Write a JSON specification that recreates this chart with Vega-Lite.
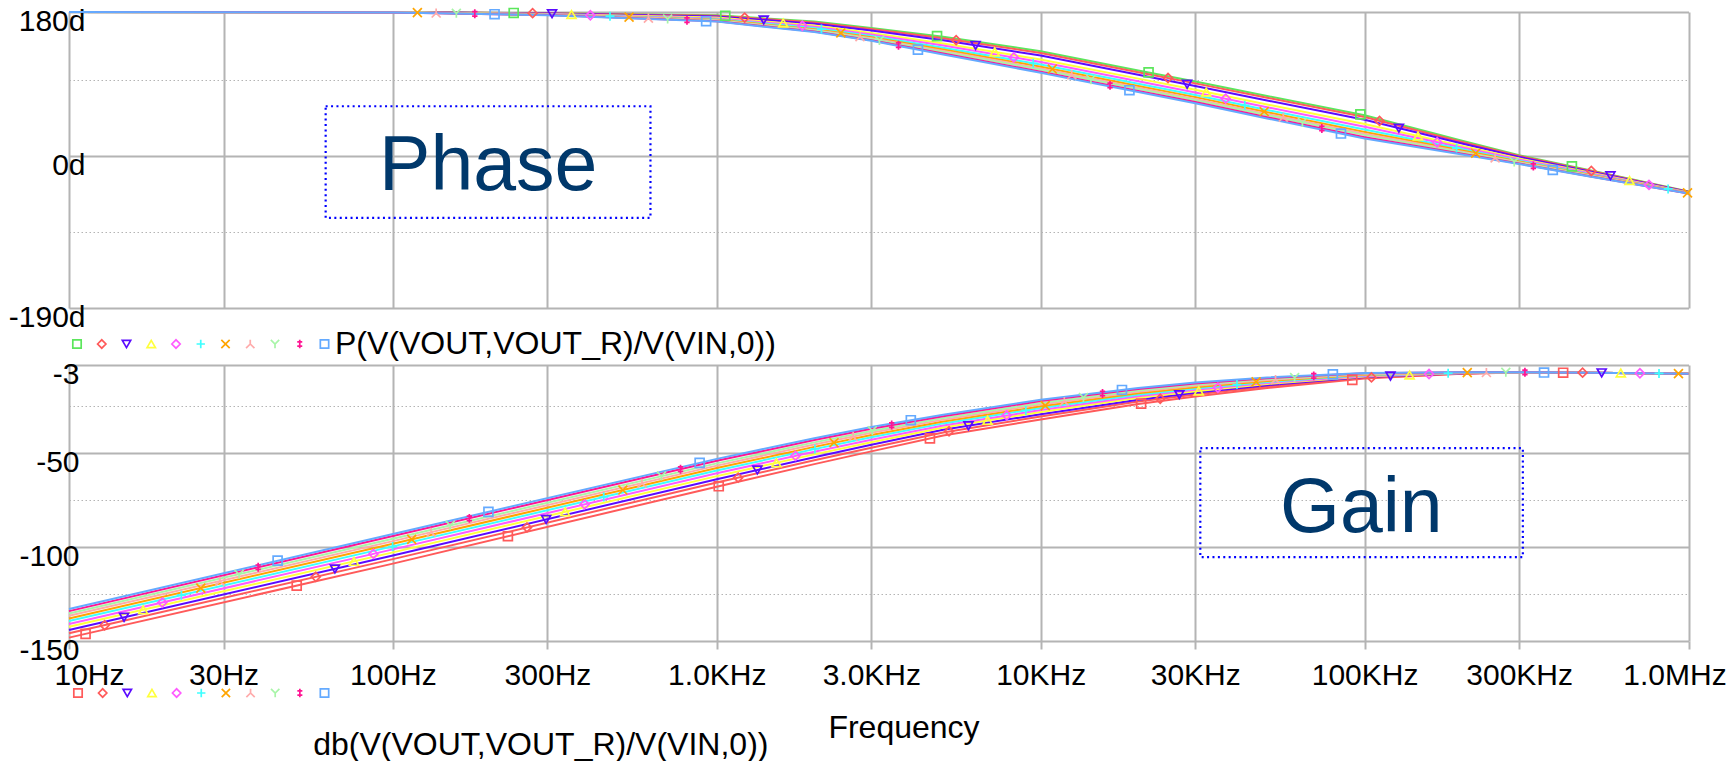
{
"$schema":"https://vega.github.io/schema/vega-lite/v6.json",
"background":"white",
"padding":{"left":8,"top":4,"right":0,"bottom":0},
"autosize":{"type":"pad"},
"title":{"text":"db(V(VOUT,VOUT_R)/V(VIN,0))","orient":"bottom","anchor":"start","fontSize":32,"fontWeight":"normal","font":"Liberation Sans","color":"#000000","dx":305,"offset":-13},
"datasets":{
"traces":[{"tr":"t1"},{"tr":"t2"},{"tr":"t3"},{"tr":"t4"},{"tr":"t5"},{"tr":"t6"},{"tr":"t7"},{"tr":"t8"},{"tr":"t9"},{"tr":"t10"},{"tr":"t11"}],
"phase":[
{"f":10,"t1":180,"t2":180,"t3":180,"t4":180,"t5":180,"t6":180,"t7":180,"t8":180,"t9":180,"t10":180,"t11":180},
{"f":100,"t1":180,"t2":180,"t3":179.9,"t4":179.8,"t5":179.8,"t6":179.7,"t7":179.6,"t8":179.6,"t9":179.6,"t10":179.5,"t11":179.5},
{"f":300,"t1":178.5,"t2":178.3,"t3":178.0,"t4":177.6,"t5":177.3,"t6":177.0,"t7":176.7,"t8":176.5,"t9":176.4,"t10":176.1,"t11":176.0},
{"f":1000,"t1":176,"t2":175.4,"t3":174.4,"t4":173.0,"t5":172.0,"t6":171.0,"t7":170.2,"t8":169.6,"t9":169.1,"t10":168.4,"t11":168},
{"f":2000,"t1":168,"t2":167.0,"t3":165.4,"t4":163.1,"t5":161.5,"t6":159.9,"t7":158.6,"t8":157.6,"t9":156.8,"t10":155.7,"t11":155},
{"f":3000,"t1":160,"t2":158.7,"t3":156.8,"t4":153.9,"t5":152,"t6":150.1,"t7":148.5,"t8":147.2,"t9":146.2,"t10":144.8,"t11":144},
{"f":5000,"t1":149,"t2":147.2,"t3":144.6,"t4":140.6,"t5":138,"t6":135.4,"t7":133.2,"t8":131.4,"t9":130.1,"t10":128.1,"t11":127},
{"f":10000,"t1":131,"t2":128.8,"t3":125.6,"t4":120.7,"t5":117.5,"t6":114.3,"t7":111.6,"t8":109.4,"t9":107.8,"t10":105.4,"t11":104},
{"f":20000,"t1":107,"t2":104.8,"t3":101.6,"t4":96.7,"t5":93.5,"t6":90.3,"t7":87.6,"t8":85.4,"t9":83.8,"t10":81.4,"t11":80},
{"f":30000,"t1":93,"t2":90.8,"t3":87.6,"t4":82.7,"t5":79.5,"t6":76.3,"t7":73.6,"t8":71.4,"t9":69.8,"t10":67.4,"t11":66},
{"f":50000,"t1":75,"t2":72.8,"t3":69.4,"t4":64.4,"t5":61,"t6":57.6,"t7":54.8,"t8":52.6,"t9":50.9,"t10":48.4,"t11":47},
{"f":100000,"t1":51,"t2":48.7,"t3":45.2,"t4":40,"t5":36.5,"t6":33,"t7":30.1,"t8":27.8,"t9":26.1,"t10":23.5,"t11":22},
{"f":200000,"t1":19,"t2":17.6,"t3":15.6,"t4":12.5,"t5":10.5,"t6":8.5,"t7":6.8,"t8":5.4,"t9":4.4,"t10":2.9,"t11":2},
{"f":300000,"t1":1,"t2":0.1,"t3":-1.2,"t4":-3.2,"t5":-4.5,"t6":-5.8,"t7":-6.9,"t8":-7.8,"t9":-8.5,"t10":-9.5,"t11":-10},
{"f":500000,"t1":-18,"t2":-18.6,"t3":-19.6,"t4":-21,"t5":-22,"t6":-23,"t7":-23.8,"t8":-24.4,"t9":-24.9,"t10":-25.6,"t11":-26},
{"f":1000000,"t1":-44.5,"t2":-44.7,"t3":-45,"t4":-45.5,"t5":-45.8,"t6":-46.1,"t7":-46.3,"t8":-46.5,"t9":-46.7,"t10":-46.9,"t11":-47}
],
"phaseMarks":[
{"f":119,"v":179.2,"tr":"t7"},{"f":136,"v":178.7,"tr":"t8"},{"f":157,"v":178.3,"tr":"t9"},{"f":179,"v":177.7,"tr":"t10"},{"f":206,"v":177.2,"tr":"t11"},
{"f":236,"v":178.8,"tr":"t1"},{"f":270,"v":178.5,"tr":"t2"},{"f":310,"v":177.9,"tr":"t3"},{"f":356,"v":176.9,"tr":"t4"},{"f":407,"v":175.9,"tr":"t5"},
{"f":468,"v":174.8,"tr":"t6"},{"f":536,"v":173.6,"tr":"t7"},{"f":615,"v":172.4,"tr":"t8"},{"f":705,"v":171.2,"tr":"t9"},{"f":809,"v":169.8,"tr":"t10"},
{"f":927,"v":168.5,"tr":"t11"},{"f":1062,"v":175.3,"tr":"t1"},{"f":1219,"v":173.0,"tr":"t2"},{"f":1396,"v":170.1,"tr":"t3"},{"f":1603,"v":166.2,"tr":"t4"},
{"f":1837,"v":162.8,"tr":"t5"},{"f":2104,"v":158.7,"tr":"t6"},{"f":2415,"v":153.9,"tr":"t7"},{"f":2767,"v":149.3,"tr":"t8"},{"f":3177,"v":144.4,"tr":"t9"},
{"f":3639,"v":138.5,"tr":"t10"},{"f":4178,"v":133.0,"tr":"t11"},{"f":4786,"v":149.9,"tr":"t1"},{"f":5483,"v":144.8,"tr":"t2"},{"f":6295,"v":138.3,"tr":"t3"},
{"f":7211,"v":130.1,"tr":"t4"},{"f":8260,"v":123.2,"tr":"t5"},{"f":9484,"v":115.9,"tr":"t6"},{"f":10860,"v":108.7,"tr":"t7"},{"f":12470,"v":101.8,"tr":"t8"},
{"f":14290,"v":95.4,"tr":"t9"},{"f":16370,"v":88.3,"tr":"t10"},{"f":18790,"v":82.2,"tr":"t11"},{"f":21530,"v":104.5,"tr":"t1"},{"f":24720,"v":97.5,"tr":"t2"},
{"f":28310,"v":89.6,"tr":"t3"},{"f":32430,"v":79.9,"tr":"t4"},{"f":37240,"v":71.7,"tr":"t5"},{"f":42660,"v":63.4,"tr":"t6"},{"f":48980,"v":55.6,"tr":"t7"},
{"f":56100,"v":48.5,"tr":"t8"},{"f":64270,"v":41.9,"tr":"t9"},{"f":73790,"v":34.4,"tr":"t10"},{"f":84530,"v":28.1,"tr":"t11"},{"f":97050,"v":52.0,"tr":"t1"},
{"f":111200,"v":43.9,"tr":"t2"},{"f":127600,"v":34.8,"tr":"t3"},{"f":146200,"v":24.9,"tr":"t4"},{"f":167500,"v":17.2,"tr":"t5"},{"f":192300,"v":9.9,"tr":"t6"},
{"f":220300,"v":3.5,"tr":"t7"},{"f":252900,"v":-2.3,"tr":"t8"},{"f":289700,"v":-7.4,"tr":"t9"},{"f":331900,"v":-12.6,"tr":"t10"},{"f":381100,"v":-17.5,"tr":"t11"},
{"f":436500,"v":-13.0,"tr":"t1"},{"f":501200,"v":-18.7,"tr":"t2"},{"f":574100,"v":-24.7,"tr":"t3"},{"f":657700,"v":-30.7,"tr":"t4"},{"f":755100,"v":-36.1,"tr":"t5"},
{"f":865000,"v":-41.2,"tr":"t6"},{"f":993000,"v":-46.1,"tr":"t7"}
],
"gain":[
{"f":10,"t1":-148.2,"t2":-145.9,"t3":-144.1,"t4":-142.4,"t5":-140.9,"t6":-139.4,"t7":-138.0,"t8":-136.6,"t9":-135.4,"t10":-134.1,"t11":-133},
{"f":100,"t1":-108.8,"t2":-106.4,"t3":-104.5,"t4":-102.8,"t5":-101.2,"t6":-99.6,"t7":-98.2,"t8":-96.8,"t9":-95.5,"t10":-94.1,"t11":-93},
{"f":1000,"t1":-67.8,"t2":-65.6,"t3":-63.8,"t4":-62.2,"t5":-60.7,"t6":-59.2,"t7":-57.9,"t8":-56.6,"t9":-55.4,"t10":-54.0,"t11":-53},
{"f":2000,"t1":-55.8,"t2":-53.7,"t3":-52.1,"t4":-50.6,"t5":-49.2,"t6":-47.8,"t7":-46.6,"t8":-45.3,"t9":-44.2,"t10":-43.0,"t11":-42},
{"f":3000,"t1":-49,"t2":-47.1,"t3":-45.5,"t4":-44.1,"t5":-42.8,"t6":-41.5,"t7":-40.3,"t8":-39.1,"t9":-38.1,"t10":-36.9,"t11":-36},
{"f":5000,"t1":-40.5,"t2":-38.9,"t3":-37.5,"t4":-36.3,"t5":-35.2,"t6":-34.1,"t7":-33.1,"t8":-32.1,"t9":-31.3,"t10":-30.3,"t11":-29.5},
{"f":10000,"t1":-32,"t2":-30.4,"t3":-29.2,"t4":-28.0,"t5":-27.0,"t6":-25.9,"t7":-25.0,"t8":-24.0,"t9":-23.2,"t10":-22.2,"t11":-21.5},
{"f":20000,"t1":-23.8,"t2":-22.5,"t3":-21.5,"t4":-20.5,"t5":-19.7,"t6":-18.8,"t7":-18.0,"t8":-17.3,"t9":-16.6,"t10":-15.8,"t11":-15.2},
{"f":30000,"t1":-19.8,"t2":-18.7,"t3":-17.8,"t4":-17.0,"t5":-16.2,"t6":-15.5,"t7":-14.8,"t8":-14.1,"t9":-13.5,"t10":-12.8,"t11":-12.3},
{"f":50000,"t1":-15.3,"t2":-14.5,"t3":-13.8,"t4":-13.1,"t5":-12.6,"t6":-12.0,"t7":-11.5,"t8":-11.0,"t9":-10.5,"t10":-10.0,"t11":-9.6},
{"f":100000,"t1":-10.2,"t2":-9.8,"t3":-9.4,"t4":-9.1,"t5":-8.8,"t6":-8.5,"t7":-8.2,"t8":-7.9,"t9":-7.7,"t10":-7.4,"t11":-7.2},
{"f":200000,"t1":-7.6,"t2":-7.5,"t3":-7.4,"t4":-7.3,"t5":-7.3,"t6":-7.2,"t7":-7.1,"t8":-7.1,"t9":-7.0,"t10":-6.9,"t11":-6.9},
{"f":300000,"t1":-7.0,"t2":-7.0,"t3":-7.0,"t4":-7.0,"t5":-7.0,"t6":-7.0,"t7":-6.9,"t8":-6.9,"t9":-6.9,"t10":-6.9,"t11":-6.9},
{"f":500000,"t1":-7.1,"t2":-7.1,"t3":-7.1,"t4":-7.1,"t5":-7.1,"t6":-7.1,"t7":-7.1,"t8":-7.1,"t9":-7.1,"t10":-7.1,"t11":-7.1},
{"f":1000000,"t1":-7.7,"t2":-7.7,"t3":-7.7,"t4":-7.7,"t5":-7.7,"t6":-7.7,"t7":-7.7,"t8":-7.7,"t9":-7.7,"t10":-7.7,"t11":-7.7}
],
"gainMarks":[
{"f":11.25,"v":-146.2,"tr":"t1"},{"f":12.88,"v":-141.6,"tr":"t2"},{"f":14.79,"v":-137.4,"tr":"t3"},{"f":16.94,"v":-133.4,"tr":"t4"},{"f":19.41,"v":-129.5,"tr":"t5"},
{"f":22.23,"v":-125.6,"tr":"t6"},{"f":25.53,"v":-121.8,"tr":"t7"},{"f":29.24,"v":-118.1,"tr":"t8"},{"f":33.5,"v":-114.5,"tr":"t9"},{"f":38.37,"v":-110.7,"tr":"t10"},
{"f":44.06,"v":-107.2,"tr":"t11"},{"f":50.47,"v":-120.5,"tr":"t1"},{"f":57.81,"v":-115.8,"tr":"t2"},{"f":66.22,"v":-111.6,"tr":"t3"},{"f":75.86,"v":-107.6,"tr":"t4"},
{"f":87.1,"v":-103.6,"tr":"t5"},{"f":99.77,"v":-99.7,"tr":"t6"},{"f":114.3,"v":-95.9,"tr":"t7"},{"f":131.2,"v":-92.0,"tr":"t8"},{"f":150.3,"v":-88.4,"tr":"t9"},
{"f":172.2,"v":-84.7,"tr":"t10"},{"f":197.2,"v":-81.2,"tr":"t11"},{"f":226.5,"v":-94.2,"tr":"t1"},{"f":259.4,"v":-89.5,"tr":"t2"},{"f":297.2,"v":-85.3,"tr":"t3"},
{"f":340.4,"v":-81.2,"tr":"t4"},{"f":390.8,"v":-77.2,"tr":"t5"},{"f":447.7,"v":-73.3,"tr":"t6"},{"f":512.9,"v":-69.6,"tr":"t7"},{"f":587.5,"v":-65.9,"tr":"t8"},
{"f":674.5,"v":-62.2,"tr":"t9"},{"f":772.7,"v":-58.5,"tr":"t10"},{"f":885.1,"v":-55.1,"tr":"t11"},{"f":1014,"v":-67.6,"tr":"t1"},{"f":1164,"v":-63.0,"tr":"t2"},
{"f":1334,"v":-58.9,"tr":"t3"},{"f":1528,"v":-55.1,"tr":"t4"},{"f":1750,"v":-51.4,"tr":"t5"},{"f":2009,"v":-47.7,"tr":"t6"},{"f":2301,"v":-44.4,"tr":"t7"},
{"f":2636,"v":-41.1,"tr":"t8"},{"f":3020,"v":-38.0,"tr":"t9"},{"f":3467,"v":-35.0,"tr":"t10"},{"f":3972,"v":-32.4,"tr":"t11"},{"f":4550,"v":-42.1,"tr":"t1"},
{"f":5212,"v":-38.3,"tr":"t2"},{"f":5984,"v":-35.4,"tr":"t3"},{"f":6855,"v":-32.5,"tr":"t4"},{"f":7852,"v":-29.8,"tr":"t5"},{"f":8995,"v":-27.2,"tr":"t6"},
{"f":10330,"v":-24.6,"tr":"t7"},{"f":11830,"v":-22.4,"tr":"t8"},{"f":13550,"v":-20.3,"tr":"t9"},{"f":15520,"v":-18.2,"tr":"t10"},{"f":17820,"v":-16.3,"tr":"t11"},
{"f":20420,"v":-23.6,"tr":"t1"},{"f":23390,"v":-21.0,"tr":"t2"},{"f":26790,"v":-18.8,"tr":"t3"},{"f":30760,"v":-16.8,"tr":"t4"},{"f":35240,"v":-15.1,"tr":"t5"},
{"f":40360,"v":-13.4,"tr":"t6"},{"f":46240,"v":-12.0,"tr":"t7"},{"f":53090,"v":-10.7,"tr":"t8"},{"f":60810,"v":-9.7,"tr":"t9"},{"f":69660,"v":-8.8,"tr":"t10"},
{"f":79800,"v":-8.0,"tr":"t11"},{"f":91620,"v":-10.9,"tr":"t1"},{"f":105000,"v":-9.6,"tr":"t2"},{"f":120200,"v":-8.9,"tr":"t3"},{"f":137700,"v":-8.3,"tr":"t4"},
{"f":158100,"v":-7.8,"tr":"t5"},{"f":181100,"v":-7.4,"tr":"t6"},{"f":207500,"v":-7.1,"tr":"t7"},{"f":237700,"v":-7.0,"tr":"t8"},{"f":272900,"v":-6.9,"tr":"t9"},
{"f":312600,"v":-6.9,"tr":"t10"},{"f":358100,"v":-7.0,"tr":"t11"},{"f":410200,"v":-7.1,"tr":"t1"},{"f":471000,"v":-7.1,"tr":"t2"},{"f":539500,"v":-7.2,"tr":"t3"},
{"f":618000,"v":-7.3,"tr":"t4"},{"f":707900,"v":-7.4,"tr":"t5"},{"f":810900,"v":-7.5,"tr":"t6"},{"f":931100,"v":-7.6,"tr":"t7"}
],
"phaseNote":[{"label":"Phase","f_lo":62,"f_hi":624,"v_hi":62.2,"v_lo":-77.4,"f_text":197,"v_text":-42.7}],
"gainNote":[{"label":"Gain","f_lo":31100,"f_hi":308000,"v_hi":-47.3,"v_lo":-105.3,"f_text":97700,"v_text":-91.8}]
},
"vconcat":[
{
"vconcat":[
{
"width":1619.5,"height":296,
"layer":[
{"data":{"name":"phase"},
"transform":[{"fold":["t1","t2","t3","t4","t5","t6","t7","t8","t9","t10","t11"],"as":["tr","v"]}],
"mark":{"type":"line","strokeWidth":2},
"encoding":{
"x":{"field":"f","type":"quantitative","title":"P(V(VOUT,VOUT_R)/V(VIN,0))","scale":{"type":"log","domain":[10,1000000],"nice":false},
"axis":{"values":[10,30,100,300,1000,3000,10000,30000,100000,300000,1000000],"labels":false,"ticks":false,"domain":false,"grid":true,"gridColor":"#b4b4b4","gridWidth":2,
"titleX":265.5,"titleY":35.7,"titleAlign":"left","titleAnchor":"start","titleBaseline":"middle","titleFontSize":32,"titleFontWeight":"normal","titleColor":"#000000"}},
"y":{"field":"v","type":"quantitative","title":null,"scale":{"domain":[-190,180],"nice":false,"zero":false},
"axis":{"values":[-190,-142.5,-95,-47.5,0,47.5,95,142.5,180],
"labelExpr":"datum.value==180?'180d':datum.value==0?'0d':datum.value==-190?'-190d':''",
"grid":true,"gridColor":"#b4b4b4",
"gridWidth":{"condition":{"test":"datum.value==0||datum.value==180||datum.value==-190","value":2},"value":1},
"gridDash":{"condition":{"test":"datum.value==0||datum.value==180||datum.value==-190","value":[]},"value":[1.5,2.5]},
"domain":false,"ticks":false,"labelPadding":-16,"labelOffset":9.5,"labelBaseline":"middle","labelFontSize":30,"labelColor":"#000000","labelOverlap":false,"labelBound":false}},
"stroke":{"field":"tr","type":"nominal","scale":{"domain":["t1","t2","t3","t4","t5","t6","t7","t8","t9","t10","t11"],"range":["#5ce65c","#ff5a5a","#5a0aff","#ffff3c","#ff5aff","#3cffff","#ffa500","#ffaaaa","#a8f5a8","#ff1493","#64aaff"]},"legend":null}
}},
{"data":{"name":"phaseMarks"},
"mark":{"type":"point","filled":false,"strokeWidth":1.7,"size":80,"opacity":1},
"encoding":{
"x":{"field":"f","type":"quantitative","title":"P(V(VOUT,VOUT_R)/V(VIN,0))"},
"y":{"field":"v","type":"quantitative","title":null},
"color":{"field":"tr","type":"nominal","scale":{"domain":["t1","t2","t3","t4","t5","t6","t7","t8","t9","t10","t11"],"range":["#5ce65c","#ff5a5a","#5a0aff","#ffff3c","#ff5aff","#3cffff","#ffa500","#ffaaaa","#a8f5a8","#ff1493","#64aaff"]},"legend":null},
"shape":{"field":"tr","type":"nominal","scale":{"domain":["t1","t2","t3","t4","t5","t6","t7","t8","t9","t10","t11"],"range":["square","diamond","triangle-down","triangle-up","diamond","M-1,0L1,0M0,-1L0,1","M-1,-1L1,1M-1,1L1,-1","M0,-1L0,0L-1,1M0,0L1,1","M-1,-1L0,0L1,-1M0,0L0,1","M0,-1L0,1M-0.6,-0.5L0.6,-0.5M-0.6,0.5L0.6,0.5","square"]},"legend":null}
}},
{"data":{"name":"phaseNote"},
"mark":{"type":"rect","fill":"transparent","stroke":"#0000ff","strokeWidth":2.2,"strokeDash":[2,3.4]},
"encoding":{"x":{"field":"f_lo","type":"quantitative","title":"P(V(VOUT,VOUT_R)/V(VIN,0))"},"x2":{"field":"f_hi"},"y":{"field":"v_hi","type":"quantitative","title":null},"y2":{"field":"v_lo"}}},
{"data":{"name":"phaseNote"},
"mark":{"type":"text","fontSize":77,"color":"#00386b","baseline":"alphabetic","align":"center","font":"Liberation Sans"},
"encoding":{"x":{"field":"f_text","type":"quantitative","title":"P(V(VOUT,VOUT_R)/V(VIN,0))"},"y":{"field":"v_text","type":"quantitative","title":null},"text":{"field":"label"}}}
]
},
{
"width":263.5,"height":8,
"data":{"name":"traces"},
"mark":{"type":"point","filled":false,"strokeWidth":1.7,"size":70,"opacity":1},
"encoding":{
"x":{"field":"tr","type":"nominal","scale":{"type":"point","domain":["t1","t2","t3","t4","t5","t6","t7","t8","t9","t10","t11"],"padding":0.323},"axis":null},
"color":{"field":"tr","type":"nominal","scale":{"domain":["t1","t2","t3","t4","t5","t6","t7","t8","t9","t10","t11"],"range":["#5ce65c","#ff5a5a","#5a0aff","#ffff3c","#ff5aff","#3cffff","#ffa500","#ffaaaa","#a8f5a8","#ff1493","#64aaff"]},"legend":null},
"shape":{"field":"tr","type":"nominal","scale":{"domain":["t1","t2","t3","t4","t5","t6","t7","t8","t9","t10","t11"],"range":["square","diamond","triangle-down","triangle-up","diamond","M-1,0L1,0M0,-1L0,1","M-1,-1L1,1M-1,1L1,-1","M0,-1L0,0L-1,1M0,0L1,1","M-1,-1L0,0L1,-1M0,0L0,1","M0,-1L0,1M-0.6,-0.5L0.6,-0.5M-0.6,0.5L0.6,0.5","square"]},"legend":null}
}
}
],
"spacing":32,
"bounds":"flush",
"resolve":{"scale":{"color":"independent","shape":"independent","stroke":"independent","x":"independent","y":"independent"}}
},
{
"vconcat":[
{
"width":1619.5,"height":276,
"layer":[
{"data":{"name":"gain"},
"transform":[{"fold":["t1","t2","t3","t4","t5","t6","t7","t8","t9","t10","t11"],"as":["tr","v"]}],
"mark":{"type":"line","strokeWidth":2},
"encoding":{
"x":{"field":"f","type":"quantitative","title":"Frequency","scale":{"type":"log","domain":[10,1000000],"nice":false},
"axis":{"values":[10,30,100,300,1000,3000,10000,30000,100000,300000,1000000],
"labelExpr":"datum.value==10?'10Hz':datum.value==30?'30Hz':datum.value==100?'100Hz':datum.value==300?'300Hz':datum.value==1000?'1.0KHz':datum.value==3000?'3.0KHz':datum.value==10000?'10KHz':datum.value==30000?'30KHz':datum.value==100000?'100KHz':datum.value==300000?'300KHz':'1.0MHz'",
"grid":true,"gridColor":"#b4b4b4","gridWidth":2,"ticks":true,"tickColor":"#b4b4b4","tickWidth":2,"tickSize":8,"domain":false,
"labelFontSize":30,"labelColor":"#000000","labelPadding":11,"labelFlush":false,"labelOverlap":false,"labelBound":false,
"labelOffset":{"condition":[{"test":"datum.value==10","value":20},{"test":"datum.value==1000000","value":-14}],"value":0},
"titleX":834.5,"titleY":86,"titleAlign":"center","titleBaseline":"middle","titleFontSize":32,"titleFontWeight":"normal","titleColor":"#000000"}},
"y":{"field":"v","type":"quantitative","title":null,"scale":{"domain":[-150,-3],"nice":false,"zero":false},
"axis":{"values":[-150,-137.5,-125,-112.5,-100,-87.5,-75,-62.5,-50,-37.5,-25,-12.5,-3],
"labelExpr":"datum.value==-3?'-3':datum.value==-50?'-50':datum.value==-100?'-100':datum.value==-150?'-150':''",
"grid":true,"gridColor":"#b4b4b4",
"gridWidth":{"condition":{"test":"datum.value==-3||datum.value==-50||datum.value==-100||datum.value==-150","value":2},"value":1},
"gridDash":{"condition":{"test":"datum.value==-3||datum.value==-50||datum.value==-100||datum.value==-150","value":[]},"value":[1.5,2.5]},
"domain":false,"ticks":false,"labelPadding":-10,"labelOffset":9.5,"labelBaseline":"middle","labelFontSize":30,"labelColor":"#000000","labelOverlap":false,"labelBound":false}},
"stroke":{"field":"tr","type":"nominal","scale":{"domain":["t1","t2","t3","t4","t5","t6","t7","t8","t9","t10","t11"],"range":["#ff5a5a","#ff5a5a","#5a0aff","#ffff3c","#ff5aff","#3cffff","#ffa500","#ffaaaa","#a8f5a8","#ff1493","#64aaff"]},"legend":null}
}},
{"data":{"name":"gainMarks"},
"mark":{"type":"point","filled":false,"strokeWidth":1.7,"size":80,"opacity":1},
"encoding":{
"x":{"field":"f","type":"quantitative","title":"Frequency"},
"y":{"field":"v","type":"quantitative","title":null},
"color":{"field":"tr","type":"nominal","scale":{"domain":["t1","t2","t3","t4","t5","t6","t7","t8","t9","t10","t11"],"range":["#ff5a5a","#ff5a5a","#5a0aff","#ffff3c","#ff5aff","#3cffff","#ffa500","#ffaaaa","#a8f5a8","#ff1493","#64aaff"]},"legend":null},
"shape":{"field":"tr","type":"nominal","scale":{"domain":["t1","t2","t3","t4","t5","t6","t7","t8","t9","t10","t11"],"range":["square","diamond","triangle-down","triangle-up","diamond","M-1,0L1,0M0,-1L0,1","M-1,-1L1,1M-1,1L1,-1","M0,-1L0,0L-1,1M0,0L1,1","M-1,-1L0,0L1,-1M0,0L0,1","M0,-1L0,1M-0.6,-0.5L0.6,-0.5M-0.6,0.5L0.6,0.5","square"]},"legend":null}
}},
{"data":{"name":"gainNote"},
"mark":{"type":"rect","fill":"transparent","stroke":"#0000ff","strokeWidth":2.2,"strokeDash":[2,3.4]},
"encoding":{"x":{"field":"f_lo","type":"quantitative","title":"Frequency"},"x2":{"field":"f_hi"},"y":{"field":"v_hi","type":"quantitative","title":null},"y2":{"field":"v_lo"}}},
{"data":{"name":"gainNote"},
"mark":{"type":"text","fontSize":77,"color":"#00386b","baseline":"alphabetic","align":"center","font":"Liberation Sans"},
"encoding":{"x":{"field":"f_text","type":"quantitative","title":"Frequency"},"y":{"field":"v_text","type":"quantitative","title":null},"text":{"field":"label"}}}
]
},
{
"width":264.5,"height":8,
"data":{"name":"traces"},
"mark":{"type":"point","filled":false,"strokeWidth":1.7,"size":70,"opacity":1},
"encoding":{
"x":{"field":"tr","type":"nominal","scale":{"type":"point","domain":["t1","t2","t3","t4","t5","t6","t7","t8","t9","t10","t11"],"padding":0.365},"axis":null},
"color":{"field":"tr","type":"nominal","scale":{"domain":["t1","t2","t3","t4","t5","t6","t7","t8","t9","t10","t11"],"range":["#ff5a5a","#ff5a5a","#5a0aff","#ffff3c","#ff5aff","#3cffff","#ffa500","#ffaaaa","#a8f5a8","#ff1493","#64aaff"]},"legend":null},
"shape":{"field":"tr","type":"nominal","scale":{"domain":["t1","t2","t3","t4","t5","t6","t7","t8","t9","t10","t11"],"range":["square","diamond","triangle-down","triangle-up","diamond","M-1,0L1,0M0,-1L0,1","M-1,-1L1,1M-1,1L1,-1","M0,-1L0,0L-1,1M0,0L1,1","M-1,-1L0,0L1,-1M0,0L0,1","M0,-1L0,1M-0.6,-0.5L0.6,-0.5M-0.6,0.5L0.6,0.5","square"]},"legend":null}
}
}
],
"spacing":48,
"bounds":"flush",
"resolve":{"scale":{"color":"independent","shape":"independent","stroke":"independent","x":"independent","y":"independent"}}
}
],
"spacing":-1,
"bounds":"full",
"resolve":{"scale":{"color":"independent","shape":"independent","stroke":"independent","x":"independent","y":"independent"}},
"config":{"font":"Liberation Sans","view":{"stroke":null},"axis":{"labelFont":"Liberation Sans","titleFont":"Liberation Sans"}}
}
